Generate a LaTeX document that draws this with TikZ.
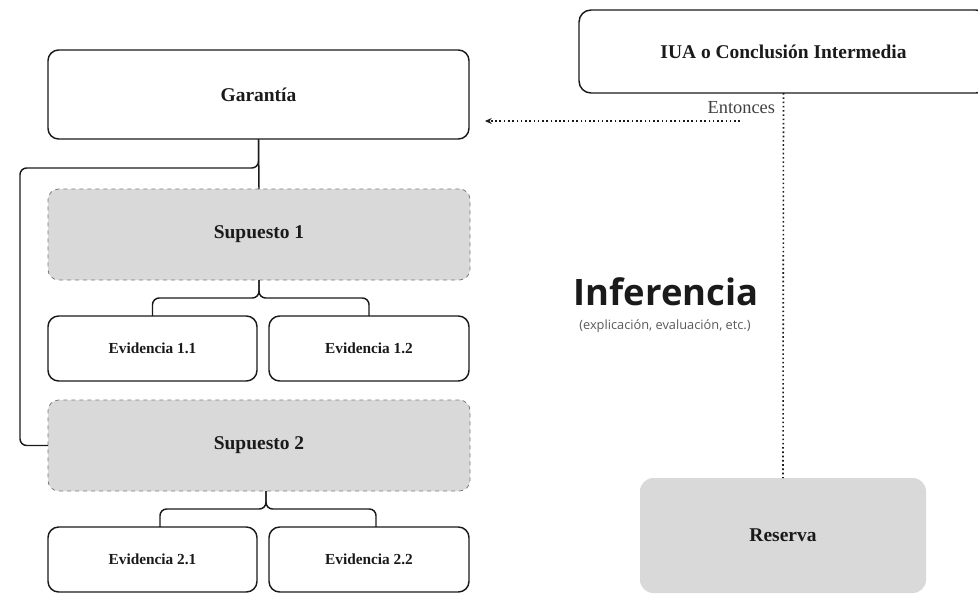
\documentclass[tikz,border=0pt]{standalone}
\usepackage{fontspec}
\setmainfont{Liberation Serif}
\newfontfamily\infsans{Open Sans}
\usetikzlibrary{arrows.meta}
\definecolor{boxgray}{HTML}{D9D9D9}
\definecolor{edgegray}{HTML}{7A7A7A}
\definecolor{ink}{HTML}{1A1A1A}
\begin{document}
\begin{tikzpicture}[x=0.75pt,y=-0.75pt,
  every node/.style={inner sep=0pt, outer sep=0pt, text=ink},
  whitebox/.style={draw=ink, line width=1.1pt, fill=white, rounded corners=8pt, font=\bfseries},
  claimbox/.style={whitebox, rounded corners=9pt},
  bigtext/.style={font=\bfseries\fontsize{14.6}{17}\selectfont},
  assumption/.style={draw=edgegray, dashed, line width=0.6pt, fill=boxgray, rounded corners=8pt, bigtext},
  evidence/.style={whitebox, font=\bfseries\fontsize{11.5}{13}\selectfont},
  reservebox/.style={fill=boxgray, rounded corners=10pt, bigtext},
  link/.style={draw=ink, line width=1.1pt, rounded corners=5pt},
  dotlink/.style={draw=ink, line width=1.2pt, dotted}
]
\useasboundingbox (0,0) rectangle (978,601);

% claim (extends past the right edge)
\node[claimbox, bigtext, minimum width=409*0.75pt, minimum height=83*0.75pt]
  (iua) at (783.5,51.5) {IUA o Conclusión Intermedia};

% warrant
\node[whitebox, bigtext, minimum width=421*0.75pt, minimum height=89*0.75pt]
  (gar) at (258.5,94.5) {Garantía};

% assumptions
\node[assumption, minimum width=422*0.75pt, minimum height=91*0.75pt] (sup1) at (259,234.5) {Supuesto 1};
\node[assumption, minimum width=422*0.75pt, minimum height=91*0.75pt] (sup2) at (259,445.5) {Supuesto 2};

% evidence
\node[evidence, minimum width=209*0.75pt, minimum height=65*0.75pt] (ev11) at (152.5,348.5) {Evidencia 1.1};
\node[evidence, minimum width=200*0.75pt, minimum height=65*0.75pt] (ev12) at (369,348.5) {Evidencia 1.2};
\node[evidence, minimum width=209*0.75pt, minimum height=65*0.75pt] (ev21) at (152.5,559.5) {Evidencia 2.1};
\node[evidence, minimum width=200*0.75pt, minimum height=65*0.75pt] (ev22) at (369,559.5) {Evidencia 2.2};

% rebuttal
\node[reservebox, minimum width=286*0.75pt, minimum height=115*0.75pt] (res) at (783,535.5) {Reserva};

% inference label
\node[font=\infsans\bfseries\fontsize{27.3}{31}\selectfont] (inf) at (666,292) {Inferencia};
\node[font=\infsans\fontsize{9.6}{11}\selectfont, text=black!65] (infsub) at (665,326) {(explicación, evaluación, etc.)};

% "Entonces" label and dotted arrow
\node[font=\fontsize{13.8}{16}\selectfont, anchor=east, text=black!75] (ent) at (775,108) {Entonces};
\coordinate (arrS) at (740,121);
\coordinate (arrE) at (485,121);
\draw[dotlink, line width=0.8pt, -{Stealth[length=5pt,width=4.5pt]}] (arrS) -- (arrE);

% inference line
\draw[dotlink] (iua.south) -- (res.north);

% warrant connectors
\draw[link] (gar.south) -- (sup1.north);
\draw[link] (gar.south) |- (20,168) |- (sup2.west);

% assumption 1 to evidence
\coordinate (j1) at (259,298);
\draw[link] (sup1.south) -- (j1) -| (ev11.north);
\draw[link] (sup1.south) -- (j1) -| (ev12.north);

% assumption 2 to evidence
\coordinate (s2) at (266,491);
\coordinate (j2) at (266,509);
\coordinate (e21) at (160,527);
\coordinate (e22) at (376,527);
\draw[link] (s2) -- (j2) -| (e21);
\draw[link] (s2) -- (j2) -| (e22);
\end{tikzpicture}
\end{document}
